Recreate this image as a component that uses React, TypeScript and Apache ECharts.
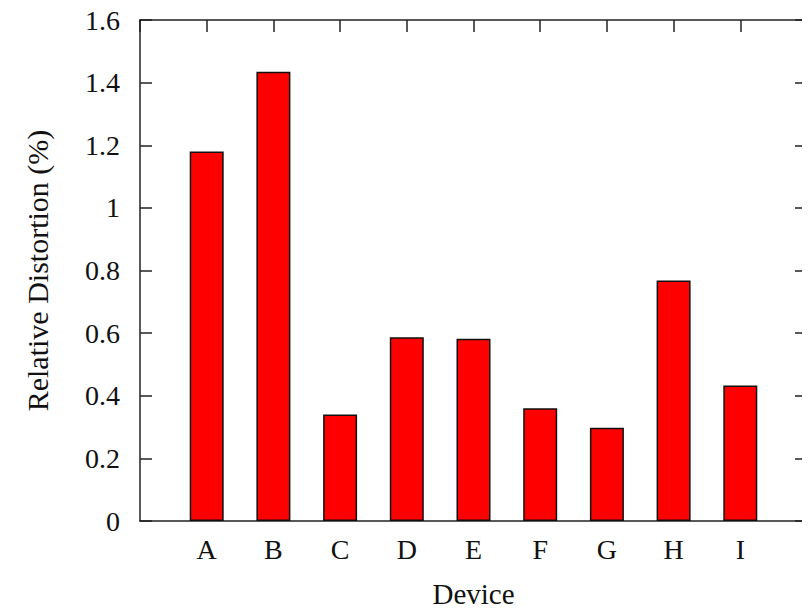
import React, { useEffect, useRef } from "react";
import * as echarts from "echarts";

const categories = ["A", "B", "C", "D", "E", "F", "G", "H", "I"];
const distortion = [1.18, 1.435, 0.34, 0.587, 0.582, 0.36, 0.298, 0.768, 0.433];
const yTicks = [0, 0.2, 0.4, 0.6, 0.8, 1, 1.2, 1.4, 1.6];

const FONT = "'Liberation Serif', 'DejaVu Serif', serif";
const FS = 28;

export default function App() {
  const ref = useRef<HTMLDivElement>(null);
  useEffect(() => {
    if (!ref.current) return;
    const chart = echarts.init(ref.current, undefined, { renderer: "svg" });
    const lineStyle = { color: "#222", width: 1.5 };
    const axisLine = { show: true, onZero: false, lineStyle };
    const tick = { show: true, inside: true, length: 12, lineStyle };
    chart.setOption({
      animation: false,
      grid: { left: 140, right: 2, top: 20, bottom: 87, containLabel: false },
      xAxis: [
        {
          type: "value",
          min: 0,
          max: categories.length + 1,
          interval: 1,
          position: "bottom",
          name: "Device",
          nameLocation: "middle",
          nameGap: 58,
          nameTextStyle: { fontFamily: FONT, fontSize: 29, color: "#111" },
          axisLine,
          axisTick: { show: false },
          splitLine: { show: false },
          axisLabel: {
            fontFamily: FONT,
            fontSize: FS,
            color: "#111",
            margin: 14,
            formatter: (v: number) => categories[v - 1] ?? "",
          },
        },
        {
          type: "value",
          min: 0,
          max: categories.length + 1,
          interval: 1,
          position: "top",
          axisLine,
          axisTick: tick,
          axisLabel: { show: false },
          splitLine: { show: false },
        },
      ],
      yAxis: [
        {
          type: "value",
          min: yTicks[0],
          max: yTicks[yTicks.length - 1],
          interval: 0.2,
          position: "left",
          name: "Relative Distortion (%)",
          nameLocation: "middle",
          nameGap: 88,
          nameTextStyle: { fontFamily: FONT, fontSize: 30, color: "#111" },
          axisLine,
          axisTick: tick,
          splitLine: { show: false },
          axisLabel: {
            fontFamily: FONT,
            fontSize: FS,
            color: "#111",
            margin: 20,
            formatter: (v: number) => String(Math.round(v * 10) / 10),
          },
        },
        {
          type: "value",
          min: yTicks[0],
          max: yTicks[yTicks.length - 1],
          interval: 0.2,
          position: "right",
          axisLine,
          axisTick: tick,
          splitLine: { show: false },
          axisLabel: { show: false },
        },
      ],
      series: [
        {
          type: "bar",
          xAxisIndex: 0,
          yAxisIndex: 0,
          barWidth: 34,
          data: distortion.map((v, i) => [i + 1, v]),
          itemStyle: { color: "#ff0000", borderColor: "#111", borderWidth: 1.5 },
        },
      ],
    });
    return () => chart.dispose();
  }, []);
  return <div ref={ref} style={{ width: 810, height: 613, margin: -8 }} />;
}
